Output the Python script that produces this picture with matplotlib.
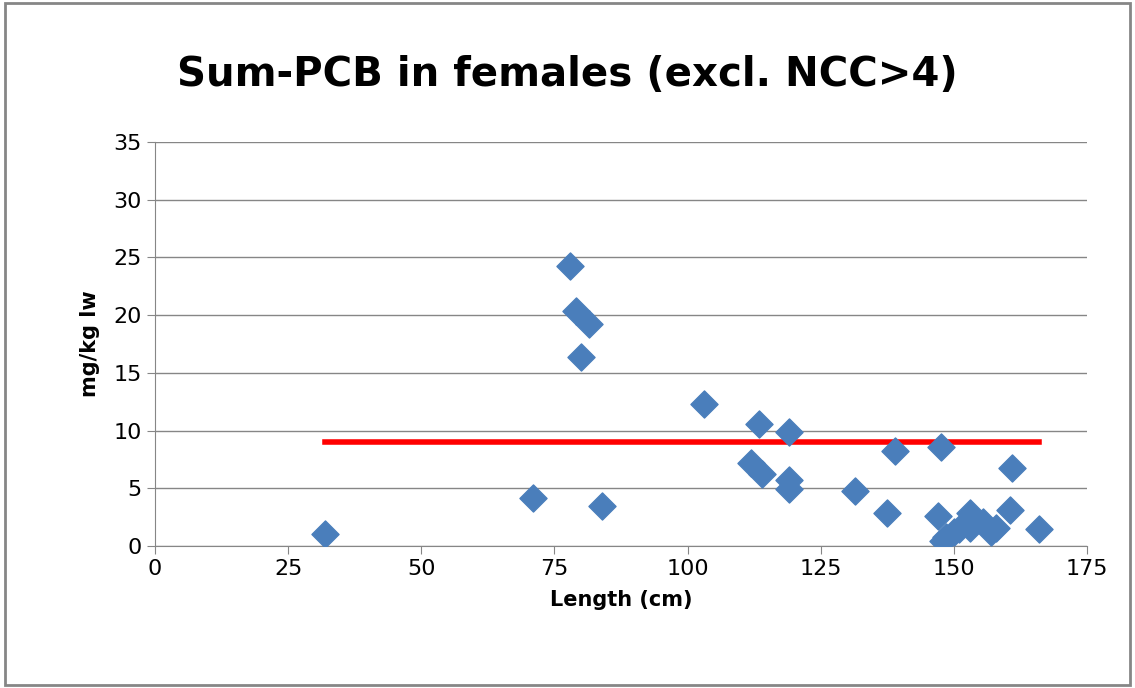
import matplotlib
matplotlib.use('Agg')
import matplotlib.pyplot as plt

length = [32, 71, 78, 79, 81.5, 80, 84, 103, 112, 113.5, 114, 119, 119, 119,
          131.5, 137.5, 139, 147.5, 147, 148, 148.5, 150, 151, 153, 153, 155.5,
          157, 158, 160.5, 161, 166]
pcb = [1.0, 4.2, 24.3, 20.4, 19.2, 16.4, 3.5, 12.3, 7.2, 10.6, 6.2, 9.9, 5.7, 4.9,
       4.8, 2.9, 8.2, 8.6, 2.6, 0.4, 0.8, 1.2, 1.5, 2.9, 1.6, 2.1,
       1.2, 1.6, 3.1, 6.8, 1.5]
line_x = [32, 166]
line_y = [9.0, 9.0]

fig = plt.figure(figsize=(11.35, 6.88), dpi=100)
ax = fig.add_axes([155/1135, 1 - 546/688, (1087-155)/1135, (546-142)/688])
ax.scatter(length, pcb, marker='D', s=190, color='#4a7ebb', zorder=3)
ax.plot(line_x, line_y, color='#ff0000', lw=4, zorder=2)
ax.set_xlim(0, 175)
ax.set_ylim(0, 35)
ax.set_xticks(range(0, 176, 25))
ax.set_yticks(range(0, 36, 5))
ax.grid(axis='y', color='#868686', lw=1)
ax.set_axisbelow(True)
for s in ['top', 'right']:
    ax.spines[s].set_visible(False)
for s in ['left', 'bottom']:
    ax.spines[s].set_color('#868686')
ax.tick_params(labelsize=16, color='#868686', direction='out', length=6)
ax.set_xlabel('Length (cm)', fontsize=15, fontweight='bold', labelpad=8)
ax.set_ylabel('mg/kg lw', fontsize=15, fontweight='bold', labelpad=10)
fig.text(0.5, 1 - 75/688, 'Sum-PCB in females (excl. NCC>4)', ha='center', va='center',
         fontsize=29, fontweight='bold')
fig.patches.append(plt.Rectangle((0.004, 0.004), 0.992, 0.992, transform=fig.transFigure,
                                 fill=False, edgecolor='#868686', lw=2))
fig.savefig('out.png')
